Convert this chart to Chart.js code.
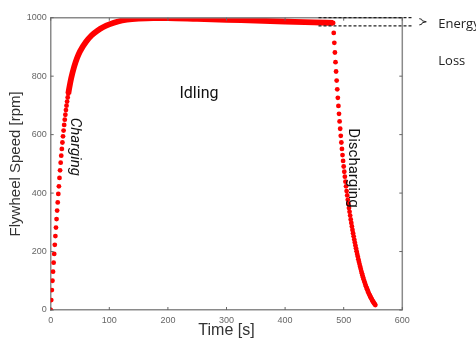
<!DOCTYPE html>
<html>
<head>
<meta charset="utf-8">
<script src="https://cdn.jsdelivr.net/npm/chart.js@4.4.1/dist/chart.umd.min.js"></script>
<style>
  html, body { margin: 0; padding: 0; background: #fff; }
  #wrap { width: 476px; height: 340px; position: relative; }
</style>
</head>
<body>
<div id="wrap"><canvas id="flywheelChart"></canvas></div>
<script>
// Charging phase, one sample per second (dots are visible here)
const chargeTime  = [0,1,2,3,4,5,6,7,8,9,10,11,12,13,14,15,16,17,18,19,20,21,22,23,24,25,26,27,28,29,30];
const chargeSpeed = [0,34,68,100,131,162,192,223,253,282,311,340,368,397,423,452,478,504,528,551,573,594,614,633,651,668,684,699,713,727,740];

// Rest of charging + idling (dots merge into a solid band)
const idleTime  = [30,32,35,40,45,50,60,70,80,90,100,115,130,150,175,200,250,300,350,400,450,482];
const idleSpeed = [740,763,793,832,862,885,917,940,956,968,977,987,993,997,999,999,996,993,990,987,984,982];

// Discharging phase, one sample per second
const dischargeTime = [482,483,484,485,486,487,488,489,490,491,492,493,494,495,496,497,498,499,500,501,502,503,504,505,506,507,508,509,510,511,512,513,514,515,516,517,518,519,520,521,522,523,524,525,526,527,528,529,530,531,532,533,534,535,536,537,538,539,540,541,542,543,544,545,546,547,548,549,550,551,552,553,554];
const dischargeSpeed = [982,948,914,881,848,816,785,755,726,698,671,645,620,596,573,551,530,510,491,473,456,439,423,407,392,377,363,349,336,323,310,298,286,274,263,252,241,231,221,211,201,192,183,174,165,157,149,141,133,126,119,112,105,99,93,87,81,76,71,66,61,56,52,48,44,40,36,32,29,26,23,20,17];

// Energy loss band (dashed lines)
const lossLevels = [1000, 972];
const lossFrom = 457;

const xTicks = [0,100,200,300,400,500,600];
const yTicks = [0,200,400,600,800,1000];

const pts = (xs, ys) => xs.map((x, i) => ({ x: x, y: ys[i] }));
const RED = 'rgb(255,0,0)';

// Frame, inward ticks, dashed loss lines and text labels
const decorPlugin = {
    id: 'decor',
    afterDraw(chart) {
        const { ctx, chartArea: a, scales: { x, y } } = chart;
        ctx.save();
        // top + right frame
        ctx.strokeStyle = '#8a8a8a';
        ctx.lineWidth = 1.5;
        ctx.beginPath();
        ctx.moveTo(a.left, a.top); ctx.lineTo(a.right, a.top); ctx.lineTo(a.right, a.bottom);
        ctx.stroke();
        // inward ticks
        ctx.lineWidth = 1;
        ctx.strokeStyle = '#666';
        ctx.beginPath();
        xTicks.forEach(v => {
            const px = x.getPixelForValue(v);
            ctx.moveTo(px, a.bottom); ctx.lineTo(px, a.bottom - 3);
            ctx.moveTo(px, a.top); ctx.lineTo(px, a.top + 3);
        });
        yTicks.forEach(v => {
            const py = y.getPixelForValue(v);
            ctx.moveTo(a.left, py); ctx.lineTo(a.left + 3, py);
            ctx.moveTo(a.right, py); ctx.lineTo(a.right - 3, py);
        });
        ctx.stroke();

        // dashed energy-loss lines
        ctx.strokeStyle = '#222';
        ctx.lineWidth = 1.2;
        ctx.setLineDash([3, 2]);
        lossLevels.forEach(v => {
            const py = y.getPixelForValue(v);
            ctx.beginPath();
            ctx.moveTo(x.getPixelForValue(lossFrom), py);
            ctx.lineTo(a.right + 10, py);
            ctx.stroke();
        });
        ctx.setLineDash([]);

        // small brace
        const y1 = y.getPixelForValue(lossLevels[0]), y2 = y.getPixelForValue(lossLevels[1]);
        const ym = (y1 + y2) / 2, bx = a.right + 17;
        ctx.lineWidth = 1;
        ctx.beginPath();
        ctx.moveTo(bx, y1 + 1); ctx.quadraticCurveTo(bx + 3, y1 + 1, bx + 3, ym - 1);
        ctx.lineTo(bx + 7, ym);
        ctx.moveTo(bx, y2 - 1); ctx.quadraticCurveTo(bx + 3, y2 - 1, bx + 3, ym + 1);
        ctx.lineTo(bx + 7, ym);
        ctx.stroke();

        ctx.fillStyle = '#222';
        ctx.textBaseline = 'middle';
        ctx.textAlign = 'left';
        ctx.font = '13px "Open Sans"';
        ctx.fillText('Energy', a.right + 36, ym + 3);
        ctx.fillText('Loss', a.right + 36, ym + 40);

        // phase labels
        ctx.textAlign = 'center';
        ctx.fillStyle = '#111';
        ctx.font = '16px Roboto';
        ctx.fillText('Idling', x.getPixelForValue(253), y.getPixelForValue(740));

        ctx.save();
        ctx.translate(x.getPixelForValue(41.5), y.getPixelForValue(558));
        ctx.rotate(Math.PI / 2);
        ctx.font = 'italic 15px Roboto';
        ctx.fillText('Charging', 0, 0);
        ctx.restore();

        ctx.save();
        ctx.translate(x.getPixelForValue(516), y.getPixelForValue(486));
        ctx.rotate(Math.PI / 2);
        ctx.font = '15px Roboto';
        ctx.fillText('Discharging', 0, 0);
        ctx.restore();

        ctx.restore();
    }
};

const ctx = document.getElementById('flywheelChart').getContext('2d');
new Chart(ctx, {
    type: 'scatter',
    data: {
        datasets: [{
            data: pts(chargeTime, chargeSpeed),
            showLine: false,
            pointRadius: 2.4,
            pointBackgroundColor: RED,
            pointBorderWidth: 0
        }, {
            data: pts(idleTime, idleSpeed),
            showLine: true,
            borderColor: RED,
            borderWidth: 5.8,
            cubicInterpolationMode: 'monotone',
            pointRadius: 0
        }, {
            data: pts(dischargeTime, dischargeSpeed),
            showLine: false,
            pointRadius: 2.4,
            pointBackgroundColor: RED,
            pointBorderWidth: 0
        }]
    },
    options: {
        responsive: true,
        maintainAspectRatio: false,
        animation: false,
        layout: { padding: { left: 0, top: 17.7, right: 73.7, bottom: 0 } },
        plugins: { legend: { display: false }, tooltip: { enabled: false } },
        scales: {
            x: {
                type: 'linear',
                min: 0, max: 600,
                afterFit: s => { s.height = 30; },
                afterBuildTicks: s => { s.ticks = xTicks.map(v => ({ value: v })); },
                grid: { display: false, drawTicks: false },
                border: { display: true, color: '#8a8a8a', width: 1.5 },
                ticks: {
                    padding: 5, color: '#666',
                    font: { family: 'Liberation Sans', size: 9 },
                    callback: v => String(v)
                },
                title: {
                    display: true,
                    text: 'Time [s]',
                    color: '#333',
                    padding: { top: 0, bottom: 0 },
                    font: { family: 'Liberation Sans', size: 16 }
                }
            },
            y: {
                type: 'linear',
                min: 0, max: 1000,
                afterFit: s => { s.width = 50.7; },
                afterBuildTicks: s => { s.ticks = yTicks.map(v => ({ value: v })); },
                grid: { display: false, drawTicks: false },
                border: { display: true, color: '#8a8a8a', width: 1.5 },
                ticks: {
                    padding: 4, color: '#666',
                    font: { family: 'Liberation Sans', size: 9 },
                    callback: v => String(v)
                },
                title: {
                    display: true,
                    text: 'Flywheel Speed [rpm]',
                    color: '#333',
                    padding: { top: 7, bottom: 0 },
                    font: { family: 'Liberation Sans', size: 15 }
                }
            }
        }
    },
    plugins: [decorPlugin]
});
</script>
</body>
</html>
